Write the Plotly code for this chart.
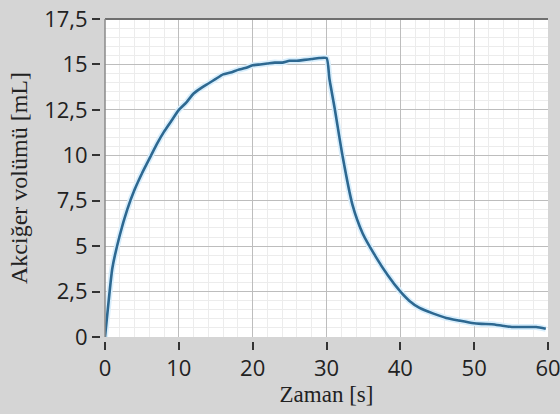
import plotly.graph_objects as go

time_s = [0, 0.5, 1, 2, 3, 4, 5, 6, 7, 8, 9, 10, 11, 12, 13, 14, 15, 16, 17, 18, 19, 20,
          21, 22, 23, 24, 25, 26, 27, 28, 29, 30.0,
          30.4, 31.1, 32.2, 33.5, 34.9, 36.7, 38.3, 39.9, 41.2, 42.6, 44.4, 46.2, 48.0, 49.7,
          51.0, 52.4, 53.8, 55.1, 56.8, 58.4, 59.7]
volume_ml = [0, 2.0, 3.8, 5.6, 7.0, 8.1, 9.0, 9.8, 10.6, 11.3, 11.9, 12.5, 12.9, 13.4, 13.7,
             13.95, 14.2, 14.45, 14.55, 14.7, 14.8, 14.95,
             15.0, 15.05, 15.1, 15.1, 15.2, 15.2, 15.25, 15.3, 15.35, 15.35,
             14.2, 12.6, 9.9, 7.3, 5.7, 4.4, 3.4, 2.55, 2.0, 1.6, 1.3, 1.05, 0.9, 0.77,
             0.72, 0.7, 0.62, 0.55, 0.55, 0.55, 0.45]

x_ticks = [0, 10, 20, 30, 40, 50, 60]
y_ticks = [0, 2.5, 5, 7.5, 10, 12.5, 15, 17.5]
y_tick_text = ["0", "2,5", "5", "7,5", "10", "12,5", "15", "17,5"]

fig = go.Figure()
fig.add_trace(go.Scatter(x=time_s, y=volume_ml, mode="lines",
                         line=dict(color="#d8eefc", width=6, shape="spline", smoothing=0.6),
                         hoverinfo="skip", showlegend=False))
fig.add_trace(go.Scatter(x=time_s, y=volume_ml, mode="lines",
                         line=dict(color="#2d6891", width=2.6, shape="spline", smoothing=0.6),
                         showlegend=False))

tick_font = dict(family="Open Sans, DejaVu Sans, sans-serif", size=22, color="#222222")
x_title_font = dict(family="Liberation Serif, Times New Roman, serif", size=23, color="#222222")
y_title_font = dict(family="Liberation Serif, Times New Roman, serif", size=24, color="#222222")

L, R, T, B = 100, 12, 19, 73
W, H = 560, 414
dx = 5 / (W - L - R)
dy = 4 / (H - T - B)

fig.update_layout(
    width=W, height=H,
    margin=dict(l=L, r=R, t=T, b=B, autoexpand=False),
    paper_bgcolor="#d5d5d5",
    plot_bgcolor="#ffffff",
    showlegend=False,
    xaxis=dict(range=[0, 60], domain=[dx, 1], anchor="free", position=0,
               automargin=False,
               tickvals=x_ticks, ticktext=[str(v) for v in x_ticks],
               ticks="outside", ticklen=8, tickwidth=1.5, tickcolor="#333333",
               tickfont=tick_font, ticklabeloverflow="allow",
               showgrid=True, gridcolor="#bdbdbd", gridwidth=1,
               minor=dict(dtick=2, showgrid=True, gridcolor="#ececec", gridwidth=1),
               zeroline=False, showline=False,
               title=dict(text="Zaman [s]", font=x_title_font, standoff=2)),
    yaxis=dict(range=[0, 17.5], domain=[dy, 1], anchor="free", position=0,
               automargin=False,
               tickvals=y_ticks, ticktext=y_tick_text,
               ticks="outside", ticklen=8, tickwidth=1.5, tickcolor="#333333",
               tickfont=tick_font, ticklabeloverflow="allow",
               showgrid=True, gridcolor="#bdbdbd", gridwidth=1,
               minor=dict(dtick=0.5, showgrid=True, gridcolor="#ececec", gridwidth=1),
               zeroline=False, showline=False,
               title=dict(text="Akciğer volümü [mL]", font=y_title_font, standoff=8)),
    shapes=[dict(type="line", xref="paper", yref="paper", x0=dx, x1=1, y0=1, y1=1,
                 line=dict(color="#6f6f6f", width=2)),
            dict(type="line", xref="paper", yref="paper", x0=dx, x1=dx, y0=dy, y1=1,
                 line=dict(color="#8a8a8a", width=1.5))],
)

fig.write_html("out.html")
